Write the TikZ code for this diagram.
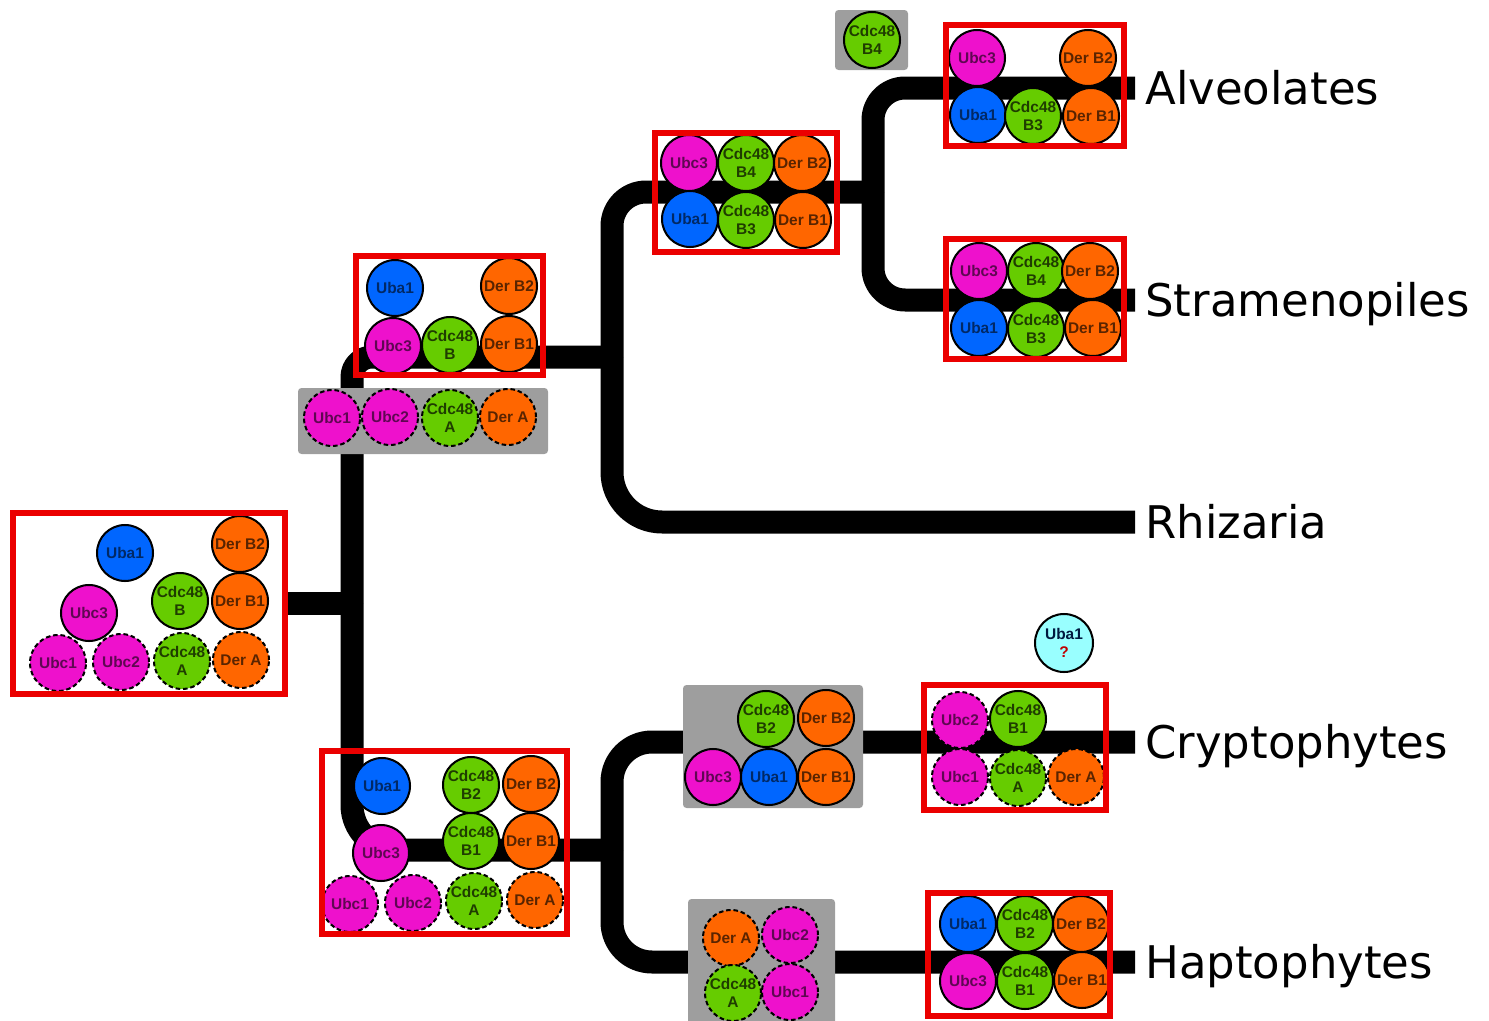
\documentclass[tikz,border=0pt]{standalone}
\usepackage{fontspec}
\setmainfont{Liberation Sans}
\newfontfamily\taxfont{DejaVu Sans}
\usetikzlibrary{positioning}

\newdimen\px \px=0.02cm

\definecolor{ubcpink}{RGB}{238,17,204}
\definecolor{ubablue}{RGB}{0,102,255}
\definecolor{cdcgreen}{RGB}{102,204,0}
\definecolor{derorange}{RGB}{255,102,0}
\definecolor{qcyan}{RGB}{153,255,255}
\definecolor{boxgray}{RGB}{158,158,158}
\definecolor{boxred}{RGB}{235,0,0}

\tikzset{
  prot/.style={circle, draw=black, line width=1.15pt, minimum size=56\px, inner sep=0pt,
    font=\bfseries\fontsize{8.8}{10.2}\selectfont, align=center},
  ubc/.style={prot, fill=ubcpink, text=ubcpink!40!black},
  uba/.style={prot, fill=ubablue, text=ubablue!40!black},
  cdc/.style={prot, fill=cdcgreen, text=cdcgreen!30!black},
  der/.style={prot, fill=derorange, text=derorange!35!black},
  lost/.style={dash pattern=on 2.6pt off 1.6pt},
  redbox/.style={draw=boxred, line width=3.4pt, inner sep=0pt},
  graybox/.style={fill=boxgray, rounded corners=2pt, inner sep=0pt},
  branch/.style={line width=23\px, line cap=butt, line join=round},
  taxon/.style={font=\taxfont\fontsize{25.6}{30}\selectfont, inner sep=0pt,
    text height=18.7pt, text depth=0pt}
}

\begin{document}
\begin{tikzpicture}[x=0.02cm, y=-0.02cm]
\useasboundingbox (0,0) rectangle (1489,1021);

% branch points and tips
\coordinate (rootout) at (285,603);
\coordinate (j0) at (352,603);
\coordinate (jsar) at (612,357);
\coordinate (jsa) at (873,192);
\coordinate (jch) at (612,850);
\coordinate (tipA) at (1135,88);
\coordinate (tipS) at (1135,300);
\coordinate (tipR) at (1135,522);
\coordinate (tipC) at (1135,742);
\coordinate (tipH) at (1135,962);

% tree
\draw[branch] (rootout) -- (j0);
\draw[branch, rounded corners=20\px] (j0) |- (jsar);
\draw[branch, rounded corners=45\px] (j0) |- (jch);
\draw[branch, rounded corners=34\px] (jsar) |- (jsa);
\draw[branch, rounded corners=50\px] (jsar) |- (tipR);
\draw[branch, rounded corners=32\px] (jsa) |- (tipA);
\draw[branch, rounded corners=32\px] (jsa) |- (tipS);
\draw[branch, rounded corners=40\px] (jch) |- (tipC);
\draw[branch, rounded corners=40\px] (jch) |- (tipH);

% taxa
\node[taxon, right=10\px of tipA] (alv) {Alveolates};
\node[taxon, right=10\px of tipS] (str) {Stramenopiles};
\node[taxon, right=10\px of tipR] (rhi) {Rhizaria};
\node[taxon, right=10\px of tipC] (cry) {Cryptophytes};
\node[taxon, right=10\px of tipH] (hap) {Haptophytes};

% gray boxes (losses)
\node[graybox, minimum width=250\px, minimum height=66\px] (ugray) at (423,421) {};
\node[graybox, minimum width=73\px, minimum height=60\px] (b4gray) at (871.5,40) {};
\node[graybox, minimum width=180\px, minimum height=123\px] (crgray) at (773,746.5) {};
\node[graybox, minimum width=147\px, minimum height=126\px] (hpgray) at (761.5,962) {};

% root
\node[uba] (r-uba1) at (125,553) {Uba1};
\node[der] (r-derb2) at (240,544) {Der B2};
\node[ubc] (r-ubc3) at (89,613) {Ubc3};
\node[cdc] (r-cdcb) at (180,601) {Cdc48\\B};
\node[der] (r-derb1) at (240,601) {Der B1};
\node[ubc, lost] (r-ubc1) at (58,663) {Ubc1};
\node[ubc, lost] (r-ubc2) at (121,662) {Ubc2};
\node[cdc, lost] (r-cdca) at (182,661) {Cdc48\\A};
\node[der, lost] (r-dera) at (241,660) {Der A};

% SAR ancestor
\node[uba] (u-uba1) at (395,288) {Uba1};
\node[der] (u-derb2) at (509,286) {Der B2};
\node[ubc] (u-ubc3) at (393,346) {Ubc3};
\node[cdc] (u-cdcb) at (450,345) {Cdc48\\B};
\node[der] (u-derb1) at (509,344) {Der B1};
\node[ubc, lost] (ul-ubc1) at (332,418) {Ubc1};
\node[ubc, lost] (ul-ubc2) at (390,417) {Ubc2};
\node[cdc, lost] (ul-cdca) at (450,418) {Cdc48\\A};
\node[der, lost] (ul-dera) at (508,417) {Der A};

% SA ancestor
\node[ubc] (s-ubc3) at (689,163) {Ubc3};
\node[cdc] (s-cdcb4) at (746,163) {Cdc48\\B4};
\node[der] (s-derb2) at (802,163) {Der B2};
\node[uba] (s-uba1) at (690,219) {Uba1};
\node[cdc] (s-cdcb3) at (746,220) {Cdc48\\B3};
\node[der] (s-derb1) at (803,220) {Der B1};
\node[cdc] (al-cdcb4) at (872,40) {Cdc48\\B4};

% Alveolates
\node[ubc] (a-ubc3) at (977,58) {Ubc3};
\node[der] (a-derb2) at (1088,58) {Der B2};
\node[uba] (a-uba1) at (978,115) {Uba1};
\node[cdc] (a-cdcb3) at (1033,116) {Cdc48\\B3};
\node[der] (a-derb1) at (1091,116) {Der B1};

% Stramenopiles
\node[ubc] (t-ubc3) at (979,271) {Ubc3};
\node[cdc] (t-cdcb4) at (1036,271) {Cdc48\\B4};
\node[der] (t-derb2) at (1090,271) {Der B2};
\node[uba] (t-uba1) at (979,328) {Uba1};
\node[cdc] (t-cdcb3) at (1036,329) {Cdc48\\B3};
\node[der] (t-derb1) at (1093,328) {Der B1};

% CH ancestor
\node[uba] (h-uba1) at (382,786) {Uba1};
\node[cdc] (h-cdcb2) at (471,785) {Cdc48\\B2};
\node[der] (h-derb2) at (531,784) {Der B2};
\node[ubc] (h-ubc3) at (381,853) {Ubc3};
\node[cdc] (h-cdcb1) at (471,841) {Cdc48\\B1};
\node[der] (h-derb1) at (531,841) {Der B1};
\node[ubc, lost] (h-ubc1) at (350,904) {Ubc1};
\node[ubc, lost] (h-ubc2) at (413,903) {Ubc2};
\node[cdc, lost] (h-cdca) at (474,901) {Cdc48\\A};
\node[der, lost] (h-dera) at (535,900) {Der A};

% Cryptophytes
\node[cdc] (cl-cdcb2) at (766,719) {Cdc48\\B2};
\node[der] (cl-derb2) at (826,718) {Der B2};
\node[ubc] (cl-ubc3) at (713,777) {Ubc3};
\node[uba] (cl-uba1) at (769,777) {Uba1};
\node[der] (cl-derb1) at (826,777) {Der B1};
\node[ubc, lost] (c-ubc2) at (960,720) {Ubc2};
\node[cdc] (c-cdcb1) at (1018,719) {Cdc48\\B1};
\node[ubc, lost] (c-ubc1) at (960,777) {Ubc1};
\node[cdc, lost] (c-cdca) at (1018,778) {Cdc48\\A};
\node[der, lost] (c-dera) at (1076,777) {Der A};
\node[prot, fill=qcyan, text=ubablue!25!black, minimum size=58\px] (c-uba1q) at (1064,643)
  {Uba1\\\textcolor{red!75!black}{?}};

% Haptophytes
\node[der, lost] (hl-dera) at (731,938) {Der A};
\node[ubc, lost] (hl-ubc2) at (790,935) {Ubc2};
\node[cdc, lost] (hl-cdca) at (733,993) {Cdc48\\A};
\node[ubc, lost] (hl-ubc1) at (790,992) {Ubc1};
\node[uba] (p-uba1) at (968,924) {Uba1};
\node[cdc] (p-cdcb2) at (1025,924) {Cdc48\\B2};
\node[der] (p-derb2) at (1081,924) {Der B2};
\node[ubc] (p-ubc3) at (968,981) {Ubc3};
\node[cdc] (p-cdcb1) at (1025,981) {Cdc48\\B1};
\node[der] (p-derb1) at (1082,980) {Der B1};

% red boxes (gene sets)
\node[redbox, minimum width=272\px, minimum height=181\px] (rootbox) at (149,603.5) {};
\node[redbox, minimum width=187\px, minimum height=119\px] (sarbox) at (449.5,315.5) {};
\node[redbox, minimum width=182\px, minimum height=119\px] (sabox) at (746,192.5) {};
\node[redbox, minimum width=178\px, minimum height=121\px] (alvbox) at (1035,85.5) {};
\node[redbox, minimum width=178\px, minimum height=120\px] (strbox) at (1035,299) {};
\node[redbox, minimum width=245\px, minimum height=183\px] (chbox) at (444.5,842.5) {};
\node[redbox, minimum width=182\px, minimum height=125\px] (crybox) at (1015,747.5) {};
\node[redbox, minimum width=182\px, minimum height=123\px] (hapbox) at (1019,954.5) {};
\end{tikzpicture}
\end{document}
